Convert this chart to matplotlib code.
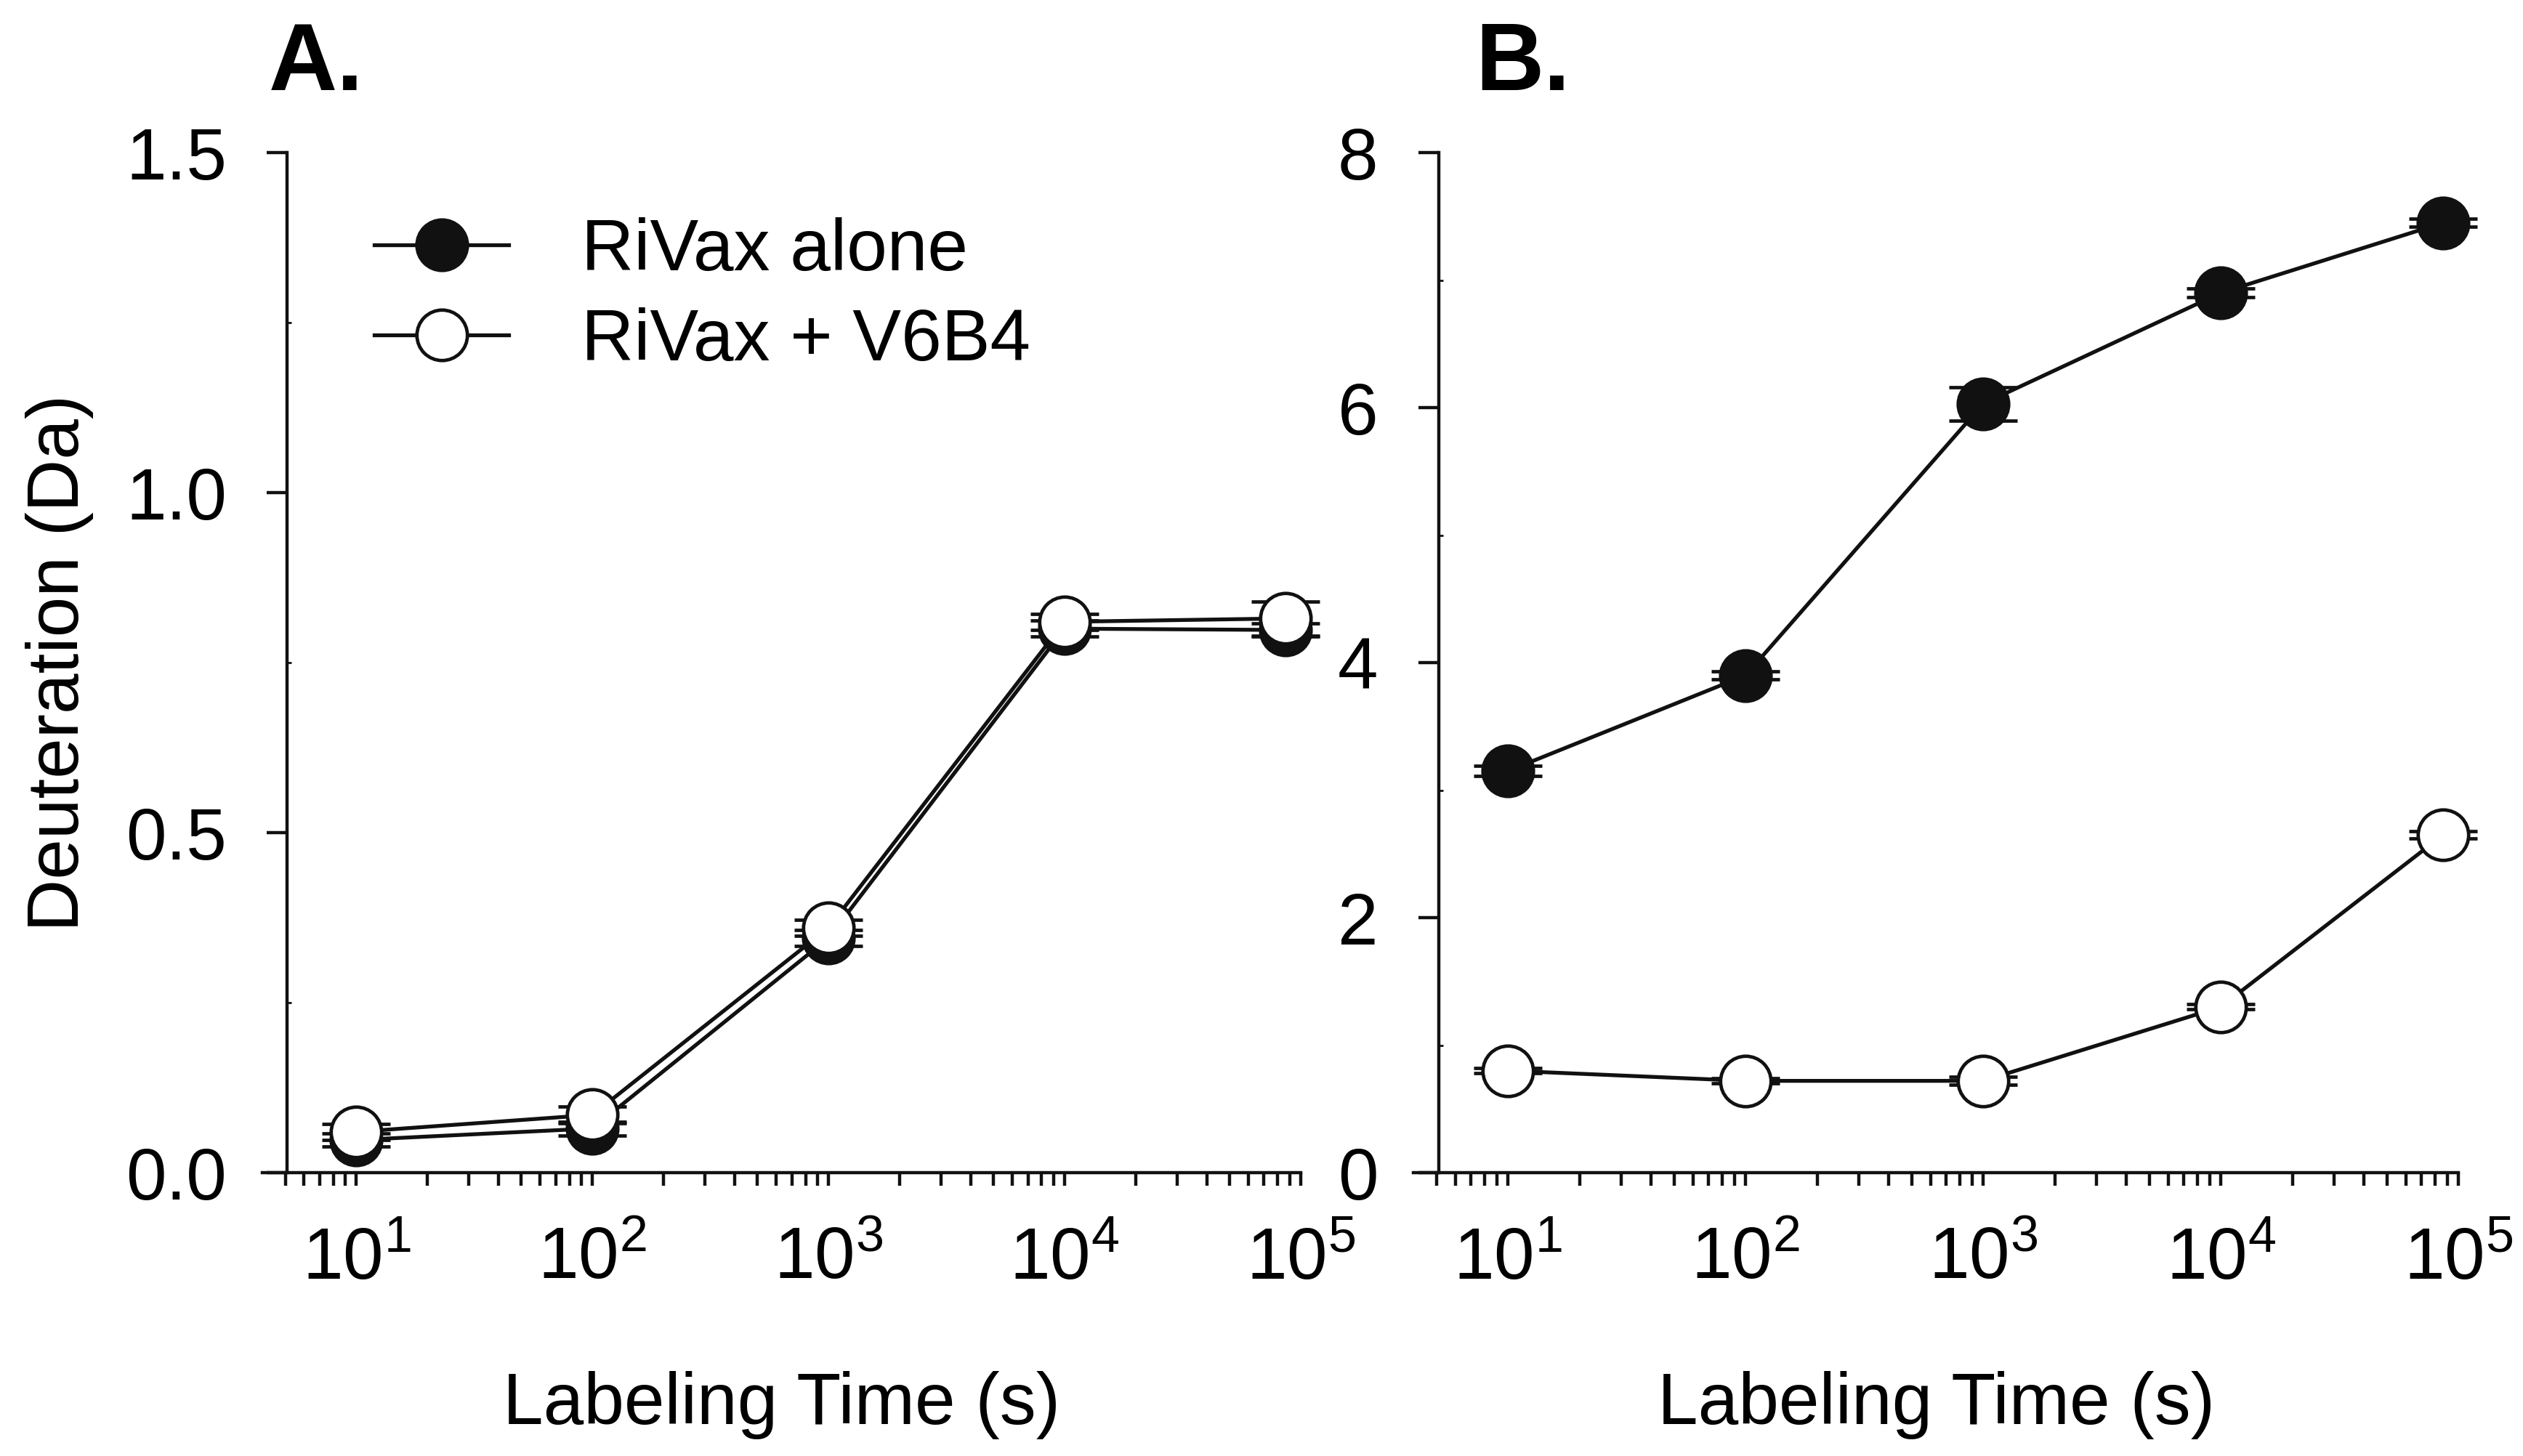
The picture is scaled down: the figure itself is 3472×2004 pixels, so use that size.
import numpy as np
import matplotlib
matplotlib.use("Agg")
import matplotlib.pyplot as plt
from matplotlib.lines import Line2D
from matplotlib.ticker import FixedLocator, NullFormatter

plt.rcParams['font.family'] = ['Liberation Sans', 'DejaVu Sans']
plt.rcParams['mathtext.default'] = 'regular'

# labeling times (s)
times = [10, 100, 1000, 10000, 86400]

# panel A
a_alone = [0.048, 0.065, 0.345, 0.800, 0.798]
a_alone_err = [0.010, 0.010, 0.012, 0.012, 0.010]
a_v6b4 = [0.060, 0.085, 0.360, 0.810, 0.815]
a_v6b4_err = [0.012, 0.012, 0.012, 0.012, 0.025]

# panel B
b_alone = [3.15, 3.90, 6.03, 6.90, 7.45]
b_alone_err = [0.04, 0.03, 0.13, 0.035, 0.03]
b_v6b4 = [0.80, 0.72, 0.72, 1.30, 2.65]
b_v6b4_err = [0.02, 0.02, 0.03, 0.02, 0.03]

panels = [
    ("A.", a_alone, a_alone_err, a_v6b4, a_v6b4_err, (0, 1.5), [0, 0.5, 1.0, 1.5], ["0.0", "0.5", "1.0", "1.5"]),
    ("B.", b_alone, b_alone_err, b_v6b4, b_v6b4_err, (0, 8), [0, 2, 4, 6, 8], ["0", "2", "4", "6", "8"]),
]

fig = plt.figure(figsize=(17.36, 10.02), dpi=200)
rects = [[0.104, 0.1946, 0.4115, 0.7006], [0.5602, 0.1946, 0.4142, 0.7006]]
title_x = [0.1065, 0.5847]

fs = 36
msz = 25
for i, (ttl, al, ale, vb, vbe, ylim, yt, ytl) in enumerate(panels):
    ax = fig.add_axes(rects[i])
    for y, e, fc, z in [(al, ale, '#111111', 3), (vb, vbe, 'white', 4)]:
        _, caps, bars = ax.errorbar(times, y, yerr=e, fmt='-o', color='#111111', mfc=fc, mec='#111111',
                                    ms=msz, mew=1.7, lw=1.9, capsize=17, capthick=2.4, elinewidth=1.6,
                                    zorder=z)
        for art in ax.lines[-3:]:
            art.set_clip_on(False)
        for c in caps:
            c.set_clip_on(False)
    ax.set_xscale('log')
    ax.set_xlim(4.0, 1e5)
    ax.set_ylim(*ylim)
    ax.spines['left'].set_position(('data', 5.1))
    ax.spines['left'].set_bounds(*ylim)
    for s in ['top', 'right']:
        ax.spines[s].set_visible(False)
    for s in ['left', 'bottom']:
        ax.spines[s].set_linewidth(1.6)
        ax.spines[s].set_color('#111111')
    ax.set_xticks([10, 100, 1000, 10000, 100000])
    minors = [m * 10 ** d for d in range(0, 5) for m in range(2, 10) if 5 <= m * 10 ** d < 1e5]
    ax.xaxis.set_minor_locator(FixedLocator(minors))
    ax.xaxis.set_minor_formatter(NullFormatter())
    ax.set_yticks(yt)
    ax.set_yticklabels(ytl)
    step = yt[1] - yt[0]
    ax.set_yticks(np.arange(ylim[0] + step / 2, ylim[1], step), minor=True)
    ax.tick_params(axis='x', which='both', direction='out', length=6.5, width=1.6,
                   labelsize=fs, pad=20, color='#111111')
    ax.tick_params(axis='y', which='major', direction='out', length=10, width=1.6,
                   labelsize=fs, pad=20, color='#111111')
    ax.tick_params(axis='y', which='minor', direction='in', length=2, width=1.0, color='#111111')
    ax.set_xlabel("Labeling Time (s)", fontsize=fs, labelpad=38)
    if i == 0:
        ax.set_ylabel("Deuteration (Da)", fontsize=fs, labelpad=16)
        handles = [
            Line2D([], [], color='#111111', lw=1.9, marker='o', ms=msz, mfc='#111111', mec='#111111', mew=1.7),
            Line2D([], [], color='#111111', lw=1.9, marker='o', ms=msz, mfc='white', mec='#111111', mew=1.7),
        ]
        ax.legend(handles, ["RiVax alone", "RiVax + V6B4"], loc='upper left', frameon=False,
                  fontsize=fs, handlelength=1.85, handletextpad=1.0, labelspacing=0.3,
                  bbox_to_anchor=(0.08, 0.965), borderaxespad=0)
    fig.text(title_x[i], 0.938, ttl, fontsize=47, fontweight='bold', ha='left', va='baseline')

fig.savefig("out.png", dpi=200)
